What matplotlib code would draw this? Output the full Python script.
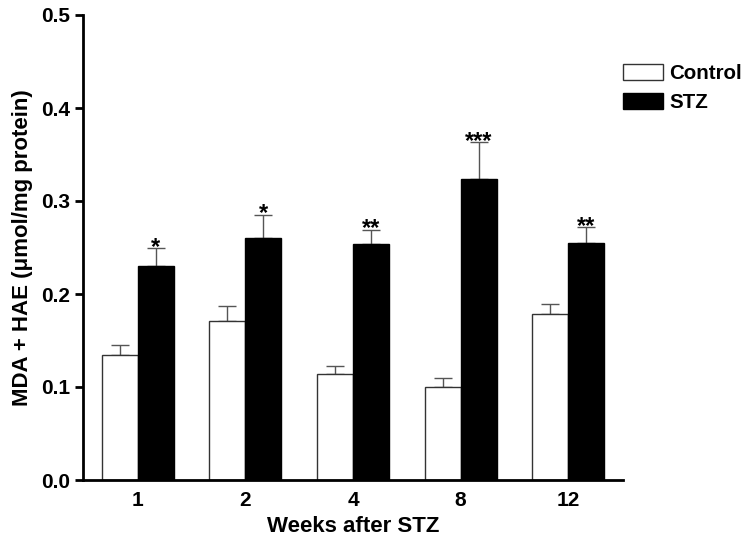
#!/usr/bin/env python3
"""
plot.py - MDA + HAE levels, Control vs STZ, grouped bars with upper SEM bars.
Saves out.png (750x537).
"""
import numpy as np
import matplotlib
matplotlib.use("Agg")
import matplotlib.pyplot as plt

# data
weeks = ["1", "2", "4", "8", "12"]
control_mean = [0.134, 0.171, 0.114, 0.100, 0.179]
control_err = [0.011, 0.016, 0.009, 0.010, 0.010]
stz_mean = [0.230, 0.260, 0.254, 0.324, 0.255]
stz_err = [0.019, 0.025, 0.015, 0.039, 0.017]
stars = ["*", "*", "**", "***", "**"]

plt.rcParams["font.family"] = ["Liberation Sans", "DejaVu Sans"]
plt.rcParams["font.weight"] = "bold"

fig = plt.figure(figsize=(7.5, 5.37), dpi=100)
ax = fig.add_axes([83 / 750, 1 - 480 / 537, (623 - 83) / 750, (480 - 15) / 537])

x = np.arange(len(weeks))
w = 0.335
zeros = np.zeros(len(weeks))

# error bars go under the bars so the lower (zero) cap is hidden by the bar top
for xs, m, e in [(x - w / 2, control_mean, control_err), (x + w / 2, stz_mean, stz_err)]:
    ax.errorbar(xs, m, yerr=[zeros, e], fmt="none", ecolor="#555555",
                elinewidth=1.0, capsize=6.5, capthick=1.0, zorder=1)

ax.bar(x - w / 2, control_mean, w, color="white", edgecolor="#333333",
       linewidth=1.0, label="Control", zorder=2)
ax.bar(x + w / 2, stz_mean, w, color="black", edgecolor="black",
       linewidth=1.0, label="STZ", zorder=2)

# significance marks above the STZ error bars
for xi, m, e, s in zip(x, stz_mean, stz_err, stars):
    ax.annotate(s, (xi + w / 2, m + e), xytext=(0, -4), textcoords="offset points",
                ha="center", va="baseline", fontsize=17, fontweight="bold")

ax.set_xlim(-0.51, 4.51)
ax.set_ylim(0, 0.5)
ax.set_yticks([0.0, 0.1, 0.2, 0.3, 0.4, 0.5])
ax.set_yticklabels(["0.0", "0.1", "0.2", "0.3", "0.4", "0.5"])
ax.set_xticks(x)
ax.set_xticklabels(weeks)

for side in ["top", "right"]:
    ax.spines[side].set_visible(False)
for side in ["left", "bottom"]:
    ax.spines[side].set_linewidth(2.0)
ax.tick_params(axis="y", direction="out", length=6, width=2, labelsize=15, pad=3)
ax.tick_params(axis="x", length=0, labelsize=15, pad=8)

ax.set_xlabel("Weeks after STZ", fontsize=16, fontweight="bold", labelpad=4)
ax.set_ylabel("MDA + HAE (\u03bcmol/mg protein)", fontsize=16, fontweight="bold", labelpad=6)

fig.legend(loc="upper left", bbox_to_anchor=(623 / 750, 1 - 64 / 537),
           frameon=False, fontsize=14.8, handlelength=1.95, handleheight=0.78,
           handletextpad=0.3, labelspacing=0.5, borderpad=0, borderaxespad=0)

plt.savefig("out.png", dpi=100)
plt.close()
